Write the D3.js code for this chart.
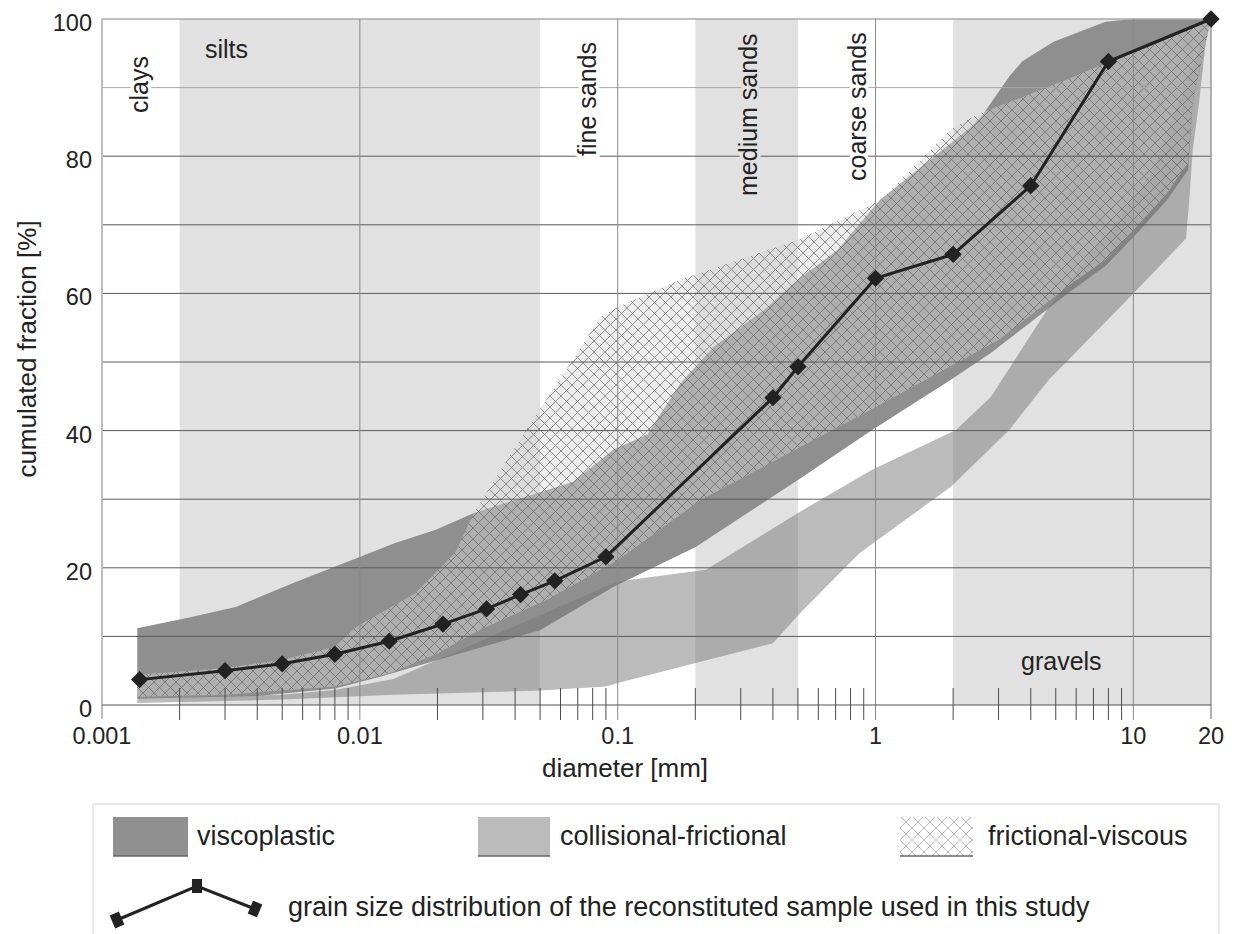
<!DOCTYPE html>
<html>
<head>
<meta charset="utf-8">
<script src="https://cdn.jsdelivr.net/npm/d3@7"></script>
<style>
  body { margin: 0; background: #fff; }
  svg text { font-family: "Liberation Sans", Arial, sans-serif; fill: #222; }
</style>
</head>
<body>
<div id="chart"></div>
<script>
// grain size distribution of the sample (diameter in mm, cumulated %)
const sampleDiam = [0.0014, 0.003, 0.005, 0.008, 0.013, 0.021, 0.031, 0.042, 0.057, 0.09, 0.4, 0.5, 1, 2, 4, 8, 20];
const samplePct  = [3.7, 5.0, 6.0, 7.4, 9.3, 11.8, 14.0, 16.1, 18.1, 21.6, 44.8, 49.3, 62.2, 65.7, 75.7, 93.8, 100];

// envelopes [diameter, %]
const viscoUpper = [[0.00137,11.2],[0.0022,12.8],[0.0033,14.3],[0.0057,18],[0.0097,21.4],[0.0137,23.6],[0.0196,25.5],[0.0277,28],[0.04,29.9],[0.067,32.5],[0.096,37.2],[0.13,39.4],[0.175,46.9],[0.235,52.2],[0.37,57.6],[0.5,62],[0.71,66.3],[1.04,73.6],[2.35,84.3],[2.6,86],[3.3,91.6],[3.7,93.8],[4.9,96.7],[7.8,99.6],[10,100],[20,100]];
const viscoLower = [[0.00137,0.9],[0.004,1.3],[0.008,2.4],[0.012,4.1],[0.025,7.6],[0.05,10.9],[0.096,17.2],[0.2,23],[0.5,32.8],[0.97,40.1],[1.96,47.4],[2.8,51.3],[5.8,60.5],[7.8,64],[10,68.2],[13.5,73.6],[16.3,78],[17,88],[20,100]];

const collUpper = [[0.00137,1.0],[0.005,1.5],[0.008,2.2],[0.0135,3.8],[0.1,18],[0.22,19.7],[0.5,28],[0.97,34.3],[2.05,40.1],[2.8,44.9],[4.7,58],[5.8,62.4],[8,69],[12,78],[15,88],[20,100]];
const collLower = [[0.00137,0.3],[0.005,0.8],[0.0135,1.5],[0.05,2.1],[0.09,2.7],[0.1,3.2],[0.4,9],[0.51,13.4],[0.87,22.2],[1.96,31.8],[3.3,40.1],[4.7,47.4],[10,60],[16,68],[16.5,74],[17,81],[18,88],[19.5,99.8],[20,100]];

const fricUpper = [[0.00137,4.4],[0.003,5.4],[0.005,6.6],[0.008,8.5],[0.0097,11.4],[0.0164,16.3],[0.0234,22.2],[0.0277,28],[0.04,37.6],[0.0505,43.4],[0.067,50.3],[0.086,56.6],[0.1,58],[0.175,62],[0.5,67.8],[1.05,73.6],[1.97,84],[2.55,86.3],[3.7,88.6],[5.8,91.5],[7.9,93.7],[12.7,96.6],[20,100]];
const fricLower = [[0.00137,1.2],[0.003,1.5],[0.008,2.7],[0.013,4.6],[0.02,7.5],[0.029,10.9],[0.053,15.3],[0.1,21.1],[0.21,29.9],[1,43.4],[3,53.2],[5.8,61.5],[7.8,64.9],[10,69.2],[13.5,74.6],[16.3,79],[17,88.2],[20,100]];

// soil classes shaded in the background
const shadedClasses = [[0.002, 0.05], [0.2, 0.5], [2, 20]];

const yLabelTicks = [0, 20, 40, 60, 80, 100];
const yGridLines = [10, 20, 30, 40, 50, 60, 70, 80];
const xLabelTicks = [0.001, 0.01, 0.1, 1, 10, 20];
const xTickLabels = ["0.001", "0.01", "0.1", "1", "10", "20"];

const width = 1235, height = 934;

const x = d3.scaleLog().domain([0.001, 20]).range([102, 1211]);
const y = d3.scaleLinear().domain([0, 100]).range([705, 19]);

const svg = d3.select("#chart").append("svg")
  .attr("width", width)
  .attr("height", height);

const defs = svg.append("defs");

function hatch(id, size, color, bg, sw) {
  const p = defs.append("pattern")
    .attr("id", id)
    .attr("patternUnits", "userSpaceOnUse")
    .attr("width", size).attr("height", size);
  if (bg) p.append("rect").attr("width", size).attr("height", size).attr("fill", bg);
  p.append("path")
    .attr("d", `M0,0L${size},${size}M${size},0L0,${size}M${-size/2},${size/2}L${size/2},${size*1.5}M${size/2},${-size/2}L${size*1.5},${size/2}M${size/2},${-size/2}L${-size/2},${size/2}M${size*1.5},${size/2}L${size/2},${size*1.5}`)
    .attr("stroke", color)
    .attr("stroke-width", sw)
    .attr("fill", "none");
}
hatch("hatch", 11, "#5e5e5e", null, 0.8);
hatch("hatchLight", 12, "#a8a8a8", "#fff", 0.8);

// background class bands
svg.append("g").selectAll("rect")
  .data(shadedClasses)
  .enter().append("rect")
    .attr("x", d => x(d[0]))
    .attr("y", y(100))
    .attr("width", d => x(d[1]) - x(d[0]))
    .attr("height", y(0) - y(100))
    .attr("fill", "#e1e1e1");

const line = d3.line().x(d => x(d[0])).y(d => y(d[1]));
const envelope = (upper, lower) => line(upper.concat(lower.slice().reverse())) + "Z";

svg.append("path")
  .attr("d", envelope(viscoUpper, viscoLower))
  .attr("fill", "#8f8f8f");

svg.append("path")
  .attr("d", envelope(collUpper, collLower))
  .attr("fill", "rgb(120,120,120)")
  .attr("fill-opacity", 0.5);

const fric = svg.append("g");
fric.append("path")
  .attr("d", envelope(fricUpper, fricLower))
  .attr("fill", "rgb(215,215,215)")
  .attr("fill-opacity", 0.45);
fric.append("path")
  .attr("d", envelope(fricUpper, fricLower))
  .attr("fill", "url(#hatch)")
  .attr("opacity", 0.8);

// grid
const grid = svg.append("g");
grid.selectAll(".hg")
  .data(yGridLines)
  .enter().append("line")
    .attr("x1", x(0.001)).attr("x2", x(20))
    .attr("y1", d => y(d)).attr("y2", d => y(d))
    .attr("stroke", "#5a5a5a")
    .attr("stroke-width", 1);
grid.append("line")
  .attr("x1", x(0.001)).attr("x2", x(20))
  .attr("y1", y(90)).attr("y2", y(90))
  .attr("stroke", "#a8a8a8");
grid.append("line")
  .attr("x1", x(0.001)).attr("x2", x(20))
  .attr("y1", y(100)).attr("y2", y(100))
  .attr("stroke", "#a8a8a8")
  .attr("stroke-width", 1.5);

const allTicks = x.ticks();
const decades = allTicks.filter(d => Math.abs(Math.log10(d) - Math.round(Math.log10(d))) < 1e-9);
const minors = allTicks.filter(d => !decades.includes(d) && d < 20);

grid.selectAll(".vg")
  .data(decades.filter(d => d > 0.001))
  .enter().append("line")
    .attr("x1", d => x(d)).attr("x2", d => x(d))
    .attr("y1", y(100)).attr("y2", y(0) + 15)
    .attr("stroke", "#8a8a8a")
    .attr("stroke-width", 1);

grid.append("line")
  .attr("x1", x(0.001)).attr("x2", x(0.001))
  .attr("y1", y(100)).attr("y2", y(0) + 14)
  .attr("stroke", "#bdbdbd")
  .attr("stroke-width", 2);
grid.append("line")
  .attr("x1", x(20)).attr("x2", x(20))
  .attr("y1", y(100)).attr("y2", y(0) + 14)
  .attr("stroke", "#999")
  .attr("stroke-width", 1.5);

grid.append("line")
  .attr("x1", x(0.001)).attr("x2", x(20))
  .attr("y1", y(0)).attr("y2", y(0))
  .attr("stroke", "#555")
  .attr("stroke-width", 1.2);

grid.selectAll(".mt")
  .data(minors)
  .enter().append("line")
    .attr("x1", d => x(d)).attr("x2", d => x(d))
    .attr("y1", y(0) - 17).attr("y2", y(0) + 15)
    .attr("stroke", "#4a4a4a")
    .attr("stroke-width", 1);

// sample curve
svg.append("path")
  .datum(sampleDiam.map((d, i) => [d, samplePct[i]]))
  .attr("d", line)
  .attr("fill", "none")
  .attr("stroke", "#222")
  .attr("stroke-width", 3);

svg.append("g").selectAll("path")
  .data(sampleDiam.map((d, i) => [d, samplePct[i]]))
  .enter().append("path")
    .attr("d", d3.symbol().type(d3.symbolSquare).size(150))
    .attr("transform", d => `translate(${x(d[0])},${y(d[1])}) rotate(45)`)
    .attr("fill", "#222");

// class labels
const classLabels = svg.append("g")
  .attr("font-size", "25px");

function vLabel(text, bx, by, halo) {
  classLabels.append("text")
    .attr("transform", `translate(${bx},${by}) rotate(-90)`)
    .attr("stroke", halo)
    .attr("stroke-width", 7)
    .attr("paint-order", "stroke")
    .text(text);
}
vLabel("clays", 148, 113, "#fff");
vLabel("fine sands", 596, 156, "#fff");
vLabel("medium sands", 757, 196, "#e1e1e1");
vLabel("coarse sands", 866, 181, "#fff");

classLabels.append("text").attr("x", 205).attr("y", 58).text("silts");
classLabels.append("text").attr("x", 1021).attr("y", 670).text("gravels");

// axis labels
svg.append("g").selectAll("text")
  .data(yLabelTicks)
  .enter().append("text")
    .attr("x", 92)
    .attr("y", d => y(d) + 12)
    .attr("text-anchor", "end")
    .attr("font-size", "23.5px")
    .text(d => d);

svg.append("g").selectAll("text")
  .data(xLabelTicks)
  .enter().append("text")
    .attr("x", d => x(d))
    .attr("y", 744)
    .attr("text-anchor", "middle")
    .attr("font-size", "23.5px")
    .text((d, i) => xTickLabels[i]);

svg.append("text")
  .attr("x", 625)
  .attr("y", 777)
  .attr("text-anchor", "middle")
  .attr("font-size", "26px")
  .text("diameter [mm]");

svg.append("text")
  .attr("transform", "translate(36,349) rotate(-90)")
  .attr("text-anchor", "middle")
  .attr("font-size", "26px")
  .text("cumulated fraction [%]");

// legend
const lg = svg.append("g");
lg.append("path")
  .attr("d", "M93,934V804H1219V934")
  .attr("fill", "none")
  .attr("stroke", "#e4e4e4")
  .attr("stroke-width", 1.5);

const swatches = [
  {x: 113, w: 75, fill: "#909090", text: "viscoplastic", tx: 197},
  {x: 478, w: 72, fill: "#bbbbbb", text: "collisional-frictional", tx: 560},
  {x: 900, w: 73, fill: "url(#hatchLight)", text: "frictional-viscous", tx: 988}
];
swatches.forEach(s => {
  lg.append("rect")
    .attr("x", s.x).attr("y", 817)
    .attr("width", s.w).attr("height", 39)
    .attr("fill", s.fill);
  lg.append("line")
    .attr("x1", s.x).attr("x2", s.x + s.w)
    .attr("y1", 856).attr("y2", 856)
    .attr("stroke", "#666").attr("stroke-width", 1.5);
  lg.append("text")
    .attr("x", s.tx).attr("y", 845)
    .attr("font-size", "27px")
    .text(s.text);
});

const legPts = [[117, 920], [197, 886], [255, 909]];
lg.append("path")
  .attr("d", d3.line()(legPts))
  .attr("fill", "none")
  .attr("stroke", "#222")
  .attr("stroke-width", 3);
legPts.forEach((p, i) => {
  const ang = i === 1 ? 0 : (i === 0 ? -23 : 22);
  lg.append("rect")
    .attr("x", -5).attr("y", -7)
    .attr("width", 10).attr("height", 14)
    .attr("transform", `translate(${p[0]},${p[1]}) rotate(${ang})`)
    .attr("fill", "#222");
});
lg.append("text")
  .attr("x", 288).attr("y", 916)
  .attr("font-size", "27px")
  .text("grain size distribution of the reconstituted sample used in this study");
</script>
</body>
</html>
